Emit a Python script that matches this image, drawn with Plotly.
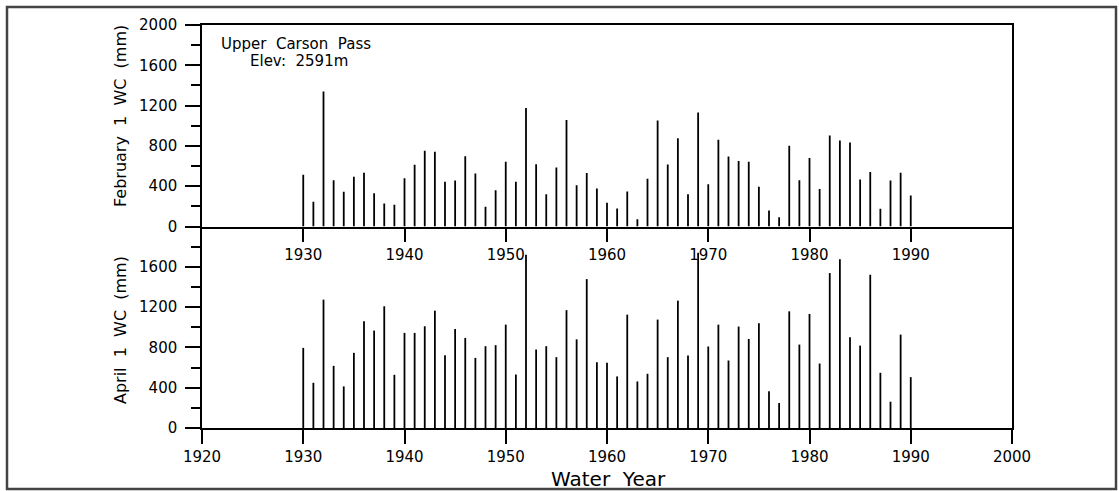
import plotly.graph_objects as go

years = list(range(1930, 1991))
feb_wc = [513, 245, 1340, 460, 344, 493, 533, 331, 228, 215,
          480, 612, 751, 741, 444, 457, 698, 526, 195, 361,
          642, 444, 1175, 619, 321, 586, 1056, 410, 530, 377,
          235, 179, 348, 73, 473, 1053, 616, 877, 321, 1132,
          420, 861, 695, 649, 642, 394, 159, 93, 801, 460,
          679, 371, 904, 854, 834, 467, 540, 175, 457, 533,
          308]
apr_wc = [795, 449, 1274, 617, 413, 746, 1059, 967, 1208, 528,
          944, 944, 1010, 1165, 723, 983, 894, 696, 812, 822,
          1026, 531, 1719, 779, 812, 703, 1170, 880, 1478, 653,
          647, 512, 1125, 462, 538, 1076, 703, 1264, 719, 1740,
          809, 1026, 670, 1007, 884, 1040, 366, 248, 1158, 828,
          1132, 640, 1538, 1675, 901, 818, 1521, 548, 261, 927,
          505]

top_xticks = list(range(1930, 1991, 10))
bot_xticks = list(range(1920, 2001, 10))
top_yticks = list(range(0, 2001, 400))
bot_yticks = list(range(0, 1601, 400))
minor_yticks = list(range(0, 2001, 200))

FONT = "DejaVu Sans"
W, H = 1119, 491
L, R, T, B = 202, 107, 25, 63


def stems(xv, yv):
    xs, ys = [], []
    for x, y in zip(xv, yv):
        xs += [x, x, None]
        ys += [0, y, None]
    return xs, ys


fig = go.Figure()
for vals, xa, ya in [(feb_wc, "x2", "y2"), (apr_wc, "x", "y")]:
    sx, sy = stems(years, vals)
    fig.add_trace(go.Scatter(x=sx, y=sy, xaxis=xa, yaxis=ya, mode="lines",
                             line=dict(color="black", width=1.8),
                             showlegend=False, connectgaps=False, hoverinfo="skip"))

axis_common = dict(showgrid=False, zeroline=False, showline=True, linecolor="black",
                   linewidth=1.5, ticks="outside", tickcolor="black", tickwidth=1.5,
                   tickfont=dict(family=FONT, size=15, color="black"))
minor_style = dict(tickmode="array", tickvals=minor_yticks, ticklen=9,
                   ticks="outside", tickcolor="black", tickwidth=1.5)

fig.update_layout(
    width=W, height=H,
    margin=dict(l=L, r=R, t=T, b=B, pad=0),
    paper_bgcolor="white", plot_bgcolor="white",
    xaxis=dict(domain=[0, 1], range=[1920, 2000], anchor="y", tickmode="array",
               tickvals=bot_xticks, ticklen=14, mirror=False, **axis_common),
    yaxis=dict(domain=[0, 0.5], range=[0, 2000], anchor="x", tickmode="array",
               tickvals=bot_yticks, ticklen=15, mirror=True, ticklabelstandoff=5,
               minor=minor_style, **axis_common),
    xaxis2=dict(domain=[0, 1], range=[1920, 2000], anchor="y2", tickmode="array",
                tickvals=top_xticks, ticklen=14, mirror=True, **axis_common),
    yaxis2=dict(domain=[0.5, 1], range=[0, 2000], anchor="x2", tickmode="array",
                tickvals=top_yticks, ticklen=15, mirror=True, ticklabelstandoff=5,
                minor=minor_style, **axis_common),
)

pw = W - L - R
ph = H - T - B


def px_x(px):
    return (px - L) / pw


def px_y(py):
    return (H - B - py) / ph


annots = [
    dict(text="February&nbsp; 1&nbsp; WC&nbsp; (mm)", x=px_x(120), y=px_y(116), textangle=-90,
         font=dict(family=FONT, size=16, color="black")),
    dict(text="April&nbsp; 1&nbsp; WC&nbsp; (mm)", x=px_x(120), y=px_y(330), textangle=-90,
         font=dict(family=FONT, size=16, color="black")),
    dict(text="Upper&nbsp; Carson&nbsp; Pass", x=px_x(296), y=px_y(44),
         font=dict(family=FONT, size=15, color="black")),
    dict(text="Elev:&nbsp; 2591m", x=px_x(299), y=px_y(61),
         font=dict(family=FONT, size=15, color="black")),
    dict(text="Water&nbsp; Year", x=px_x(608), y=px_y(479),
         font=dict(family=FONT, size=20, color="black")),
]
for a in annots:
    fig.add_annotation(xref="paper", yref="paper", showarrow=False,
                       xanchor="center", yanchor="middle", **a)

fig.add_shape(type="rect", xref="paper", yref="paper",
              x0=px_x(7), x1=px_x(1116), y0=px_y(489), y1=px_y(7),
              line=dict(color="#444444", width=2.5), layer="above")

fig.write_html("out.html")
